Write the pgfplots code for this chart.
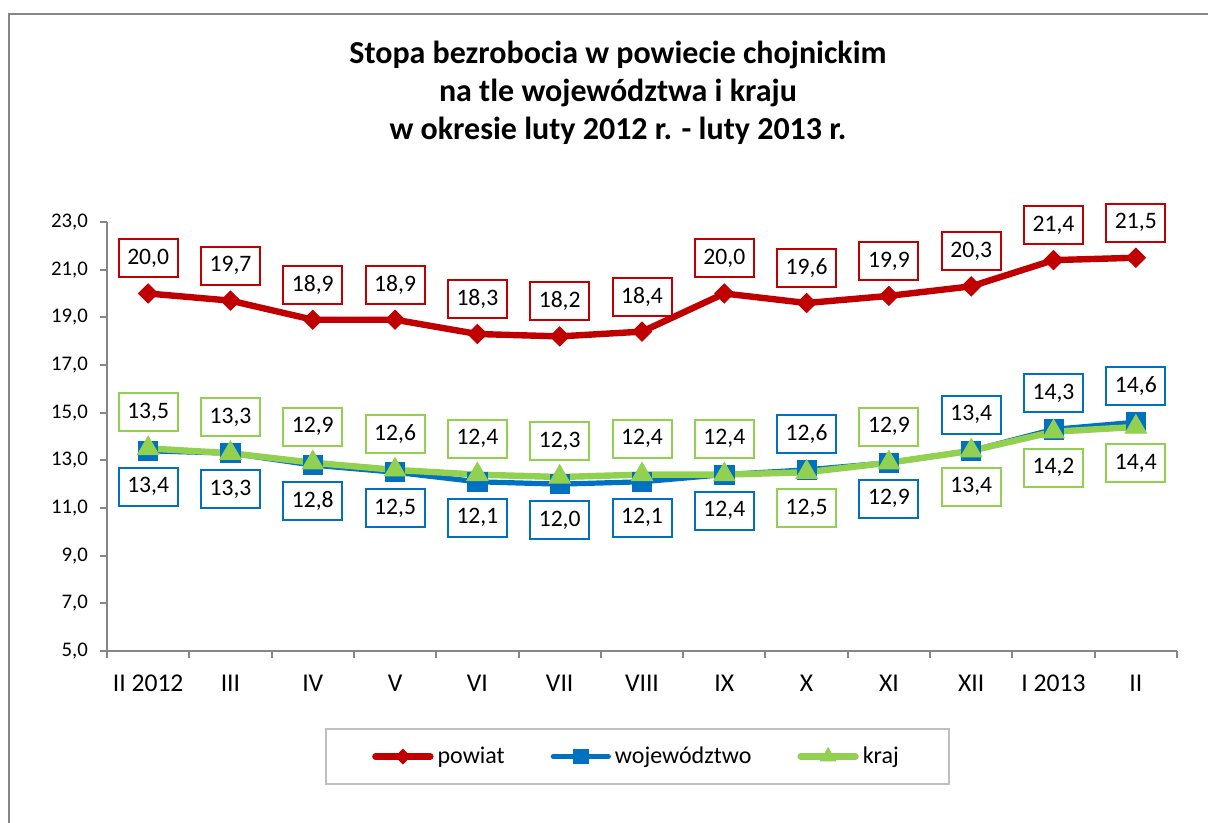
\documentclass[border=0pt]{standalone}
\usepackage{pgfplots}
\pgfplotsset{compat=1.18}
\usepackage{pgfplotstable}
\usepackage{fontspec}
\setmainfont{Carlito}
\definecolor{cred}{HTML}{C00000}
\definecolor{cblue}{HTML}{0070C0}
\definecolor{cgreen}{HTML}{92D050}
\definecolor{cgray}{HTML}{868686}

\pgfplotstableread{
x powiat pp woj pw kraj pk
0 20.0 1 13.4 -1 13.5 1
1 19.7 1 13.3 -1 13.3 1
2 18.9 1 12.8 -1 12.9 1
3 18.9 1 12.5 -1 12.6 1
4 18.3 1 12.1 -1 12.4 1
5 18.2 1 12.0 -1 12.3 1
6 18.4 1 12.1 -1 12.4 1
7 20.0 1 12.4 -1 12.4 1
8 19.6 1 12.6 1 12.5 -1
9 19.9 1 12.9 -1 12.9 1
10 20.3 1 13.4 1 13.4 -1
11 21.4 1 14.3 1 14.2 -1
12 21.5 1 14.6 1 14.4 -1
}\data

\pgfplotsset{
  /pgf/number format/.cd, fixed, fixed zerofill, precision=1, use comma, assume math mode=true,
}
\tikzset{
  lab/.style={draw=#1, line width=1pt, fill=white, text=black, minimum width=29.5pt,
    minimum height=19pt, inner sep=0pt, anchor=center, font=\fontsize{11.8}{12}\selectfont},
}

\begin{document}
\begin{tikzpicture}[x=1pt,y=1pt]
\useasboundingbox (-53.5,-86) rectangle (550.5,325.5);
\draw[cgray, line width=1.2pt] (-49,-95) -- (-49,318.5) -- (560,318.5);
\node[font=\bfseries\fontsize{16}{19}\selectfont, align=center] at (255.5,279)
  {Stopa bezrobocia w powiecie chojnickim\\na tle województwa i kraju\\w okresie luty 2012 r. - luty 2013 r.};
\begin{axis}[
  at={(0,0)}, anchor=south west, scale only axis,
  width=535pt, height=214.5pt,
  xmin=-0.5, xmax=12.5, ymin=5, ymax=23,
  ytick={5,7,...,23},
  xtick={-0.5,0.5,...,12.5},
  x tick label as interval,
  xticklabels={II 2012,III,IV,V,VI,VII,VIII,IX,X,XI,XII,I 2013,II},
  axis x line=bottom, axis y line=left,
  axis line style={-, cgray, line width=1pt},
  tick style={cgray, line width=1pt},
  tick align=outside, major tick length=3.5pt,
  xticklabel style={font=\fontsize{12.8}{14}\selectfont, text=black, yshift=-5pt},
  yticklabel style={font=\fontsize{10.4}{12}\selectfont, text=black, xshift=-2.5pt},
  clip=false,
  legend style={at={(0.4958,-0.246)}, anchor=center, draw=gray!50, line width=0.9pt,
    font=\fontsize{12}{14}\selectfont, inner xsep=23pt, inner ysep=7pt,
    nodes={inner xsep=2pt},
    /tikz/every even column/.append style={column sep=21pt}},
  legend columns=3,
  legend image code/.code={\draw[mark repeat=2,mark phase=2,line cap=round,#1] plot coordinates {(0pt,0pt)(13.75pt,0pt)(27.5pt,0pt)};},
]
\addplot[cred, line width=3.2pt, mark=square*, mark size=3.4pt,
  mark options={solid, rotate=45, line width=0.4pt},
  legend image post style={mark size=2.6pt},
  visualization depends on={\thisrow{pp} \as \pos},
  nodes near coords,
  every node near coord/.append style={lab=cred, yshift=\pos*17.5pt}]
  table[x=x,y=powiat]{\data};
\addlegendentry{powiat}
\addplot[cblue, line width=2.6pt, mark=square*, mark size=4.8pt,
  mark options={solid, line width=0.4pt},
  legend image post style={mark size=3.6pt},
  visualization depends on={\thisrow{pw} \as \pos},
  nodes near coords,
  every node near coord/.append style={lab=cblue, yshift=\pos*18pt}]
  table[x=x,y=woj]{\data};
\addlegendentry{województwo}
\addplot[cgreen, line width=3.2pt, mark=triangle*, mark size=6.2pt,
  mark options={solid, line width=0.4pt},
  legend image post style={mark size=4.4pt},
  visualization depends on={\thisrow{pk} \as \pos},
  nodes near coords,
  every node near coord/.append style={lab=cgreen, yshift=\pos*18pt}]
  table[x=x,y=kraj]{\data};
\addlegendentry{kraj}
\end{axis}
\end{tikzpicture}
\end{document}
